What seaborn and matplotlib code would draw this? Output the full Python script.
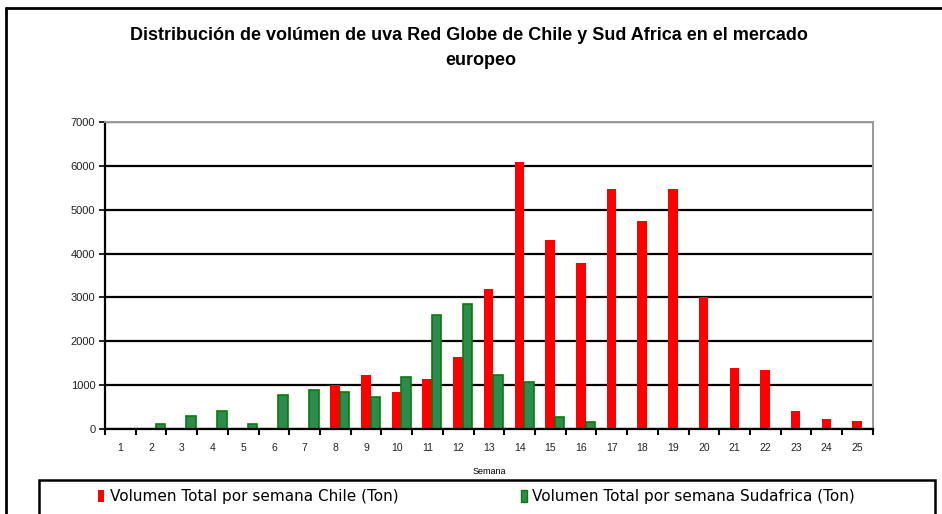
import matplotlib
matplotlib.use("Agg")
import matplotlib.pyplot as plt
import matplotlib.transforms as mtransforms
import seaborn as sns
import pandas as pd
import numpy as np
from matplotlib.patches import Rectangle
from matplotlib.ticker import FixedLocator

weeks = [str(i) for i in range(1, 26)]
chile = [0, 0, 0, 0, 0, 0, 0, 1000, 1230, 850, 1140, 1640, 3190, 6090, 4310,
         3790, 5470, 4740, 5470, 3010, 1400, 1350, 410, 230, 180]
sudafrica = [0, 110, 290, 410, 110, 790, 900, 850, 730, 1190, 2610, 2860, 1240,
             1070, 280, 170, 0, 0, 0, 0, 0, 0, 0, 0, 0]
series_names = ["Volumen Total por semana Chile (Ton)",
                "Volumen Total por semana Sudafrica (Ton)"]
yticks = [0, 1000, 2000, 3000, 4000, 5000, 6000, 7000]

df = pd.DataFrame({
    "Semana": weeks * 2,
    "Volumen": chile + sudafrica,
    "Serie": [series_names[0]] * len(weeks) + [series_names[1]] * len(weeks),
})

sns.set_theme(style="white")
plt.rcParams["font.family"] = ["Liberation Sans", "DejaVu Sans"]
plt.rcParams["text.color"] = "black"
plt.rcParams["axes.labelcolor"] = "black"
plt.rcParams["xtick.color"] = "black"
plt.rcParams["ytick.color"] = "black"

fig = plt.figure(figsize=(9.42, 5.14), dpi=100)
ax = fig.add_axes([0.1115, 0.165, 0.815, 0.598])

palette = {series_names[0]: "#ff0000", series_names[1]: "#2e8b4e"}
sns.barplot(data=df, x="Semana", y="Volumen", hue="Serie", palette=palette,
            width=0.62, ax=ax, legend=False, saturation=1)
# small rightward display offset of the bar pairs, as in the reference
shift = mtransforms.ScaledTranslation(4.5 / 100, 0, fig.dpi_scale_trans)
for p in ax.patches:
    fc = p.get_facecolor()
    if fc[1] > 0.3:
        p.set_edgecolor("#0a7a0a")
        p.set_linewidth(1.2)
    else:
        p.set_edgecolor("none")
    p.set_transform(ax.transData + shift)

ax.set_ylim(0, 7000)
ax.set_xlim(-0.5, len(weeks) - 0.5)
ax.set_yticks(yticks)
ax.set_yticklabels([str(v) for v in yticks], fontsize=8, color="#222222")
ax.yaxis.grid(True, color="black", linewidth=1.6)
ax.set_axisbelow(True)
ax.xaxis.grid(False)

ax.set_xticks(range(len(weeks)))
ax.set_xticklabels(weeks, fontsize=7.5, color="#222222")
ax.tick_params(axis="x", which="major", length=0, pad=10)
ax.xaxis.set_minor_locator(FixedLocator(np.arange(-0.5, len(weeks), 1.0)))
ax.tick_params(axis="x", which="minor", length=4, width=1.5, color="black",
               direction="out", bottom=True)
ax.tick_params(axis="y", length=4, width=1.2, color="black", direction="out",
               left=True, pad=3)

for s in ["left", "bottom"]:
    ax.spines[s].set_color("black")
    ax.spines[s].set_linewidth(1.6)
for s in ["top", "right"]:
    ax.spines[s].set_color("#999999")
    ax.spines[s].set_linewidth(1.4)

ax.set_ylabel("")
ax.set_xlabel("Semana", fontsize=6.5, labelpad=10, color="black")

fig.text(0.498, 0.930, "Distribución de volúmen de uva Red Globe de Chile y Sud Africa en el mercado",
         ha="center", va="center", fontsize=13, fontweight="bold", color="black")
fig.text(0.510, 0.883, "europeo", ha="center", va="center", fontsize=13,
         fontweight="bold", color="black")

# outer chart border (left and top)
fig.add_artist(plt.Line2D([0.006, 0.006], [0, 0.984], color="black", lw=2,
                          transform=fig.transFigure))
fig.add_artist(plt.Line2D([0.006, 1.0], [0.984, 0.984], color="black", lw=2,
                          transform=fig.transFigure))

# legend frame (extends below the image edge as in the reference)
fig.add_artist(Rectangle((0.041, -0.05), 0.952, 0.116, transform=fig.transFigure,
                         facecolor="none", edgecolor="black", linewidth=1.8))

handles = [Rectangle((0, 0), 1, 1, facecolor="#ff0000", edgecolor="none"),
           Rectangle((0, 0), 1, 1, facecolor="#2e8b4e", edgecolor="#0a7a0a")]
leg = fig.legend(handles, series_names, loc="center left",
                 bbox_to_anchor=(0.104, 0.034), ncol=2,
                 prop={"family": "DejaVu Sans", "size": 11},
                 frameon=False, handlelength=0.42, handleheight=0.85,
                 handletextpad=0.35, borderaxespad=0, borderpad=0,
                 columnspacing=8.0)
for t in leg.get_texts():
    t.set_color("black")

fig.savefig("out.png", dpi=100)
